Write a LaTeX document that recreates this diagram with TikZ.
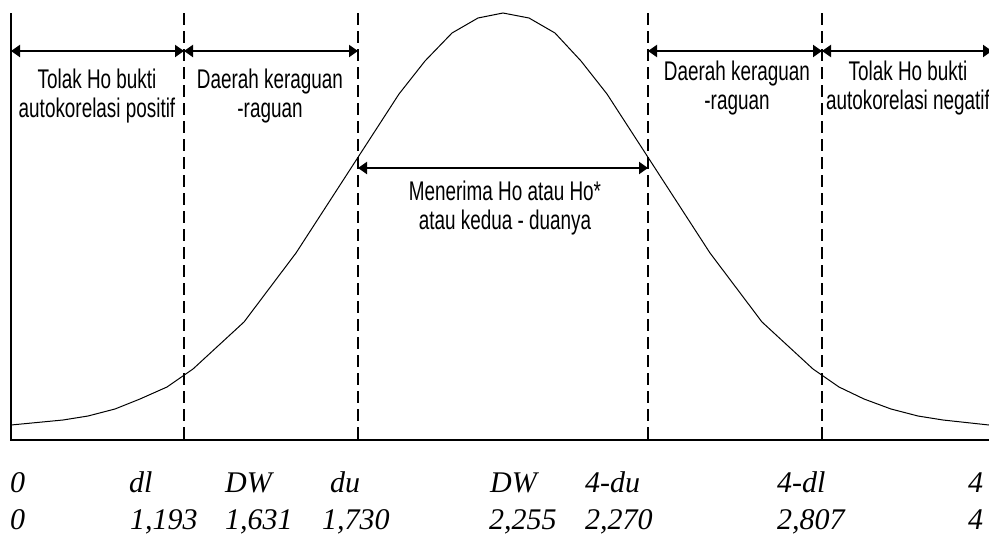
\documentclass[tikz,border=0pt]{standalone}
\usepackage{fontspec}
\setmainfont{Liberation Serif}
\newfontfamily\narrowsans[FakeStretch=0.70]{Liberation Sans}
\usetikzlibrary{arrows.meta, positioning, calc}

\begin{document}
\begin{tikzpicture}[
  x=1pt, y=-1pt,
  region/.style={font=\narrowsans\fontsize{27}{29}\selectfont, align=center, inner sep=0pt, anchor=north},
  value/.style={font=\itshape\fontsize{30}{30}\selectfont, inner sep=0pt, anchor=base west},
  span/.style={{Triangle[length=9pt,width=12pt]}-{Triangle[length=9pt,width=12pt]}, line width=2pt},
  bound/.style={dash pattern=on 12pt off 6pt, line width=1.5pt},
  axis/.style={line width=2pt},
  density/.style={line width=1pt}
]
\useasboundingbox (0,0) rectangle (989,536);

% Boundaries
\coordinate (o-t) at (11,13);
\coordinate (o-b) at (11,440);
\coordinate (end) at (989,440);
\foreach \name/\x in {dl/184, du/358, udu/648, udl/822}{
  \coordinate (\name-t) at (\x,13);
  \coordinate (\name-b) at (\x,440);
}

% Axis
\draw[axis] (o-t) -- (o-b) -- (end);
\foreach \name in {dl, du, udu, udl}
  \draw[bound] (\name-t) -- (\name-b);

% Curve
\draw[density] plot coordinates {
  (11,425) (63,420) (88,416) (115,409) (140,399) (167,387) (193,369)
  (244,322) (296,253) (399,94) (425,61) (452,33) (478,18) (503,13)
  (529,18) (555,33) (581,61) (607,94) (710,253) (762,322) (813,369)
  (839,387) (864,399) (891,409) (918,416) (943,420) (989,425)};

% Arrows
\foreach \name/\x in {a0/11, a1/184, a2/358, a3/648, a4/822, a5/992}
  \coordinate (\name) at (\x,51);
\coordinate (m0) at (358,168);
\coordinate (m1) at (648,168);
\draw[span] (a0) -- (a1);
\draw[span] (a1) -- (a2);
\draw[span] (a3) -- (a4);
\draw[span] (a4) -- (a5);
\draw[span] (m0) -- (m1);

% Region labels
\node[region] (rejpos) at (97,68.5) {Tolak Ho bukti\\autokorelasi positif};
\node[region] (doubtlo) at (270,68.5) {Daerah keraguan\\-raguan};
\node[region] (accept) at (505,180.5) {Menerima Ho atau Ho*\\atau kedua - duanya};
\node[region] (doubthi) at (737,60.5) {Daerah keraguan\\-raguan};
\node[region] (rejneg) at (908,60.5) {Tolak Ho bukti\\autokorelasi negatif};

% Values
\node[value] (s0) at (10,492) {0};
\node[value] (sdl) at (129,492) {dl};
\node[value] (sdw) at (225,492) {DW};
\node[value] (sdu) at (330,492) {du};
\node[value] (sdw2) at (490,492) {DW};
\node[value] (sudu) at (585,492) {4-du};
\node[value] (sudl) at (777,492) {4-dl};
\node[value] (s4) at (968,492) {4};
\node[value] (v0) at (10,529) {0};
\node[value] (vdl) at (130,529) {1,193};
\node[value] (vdw) at (225,529) {1,631};
\node[value] (vdu) at (322,529) {1,730};
\node[value] (vdw2) at (489,529) {2,255};
\node[value] (vudu) at (585,529) {2,270};
\node[value] (vudl) at (777,529) {2,807};
\node[value] (v4) at (968,529) {4};

\end{tikzpicture}
\end{document}
